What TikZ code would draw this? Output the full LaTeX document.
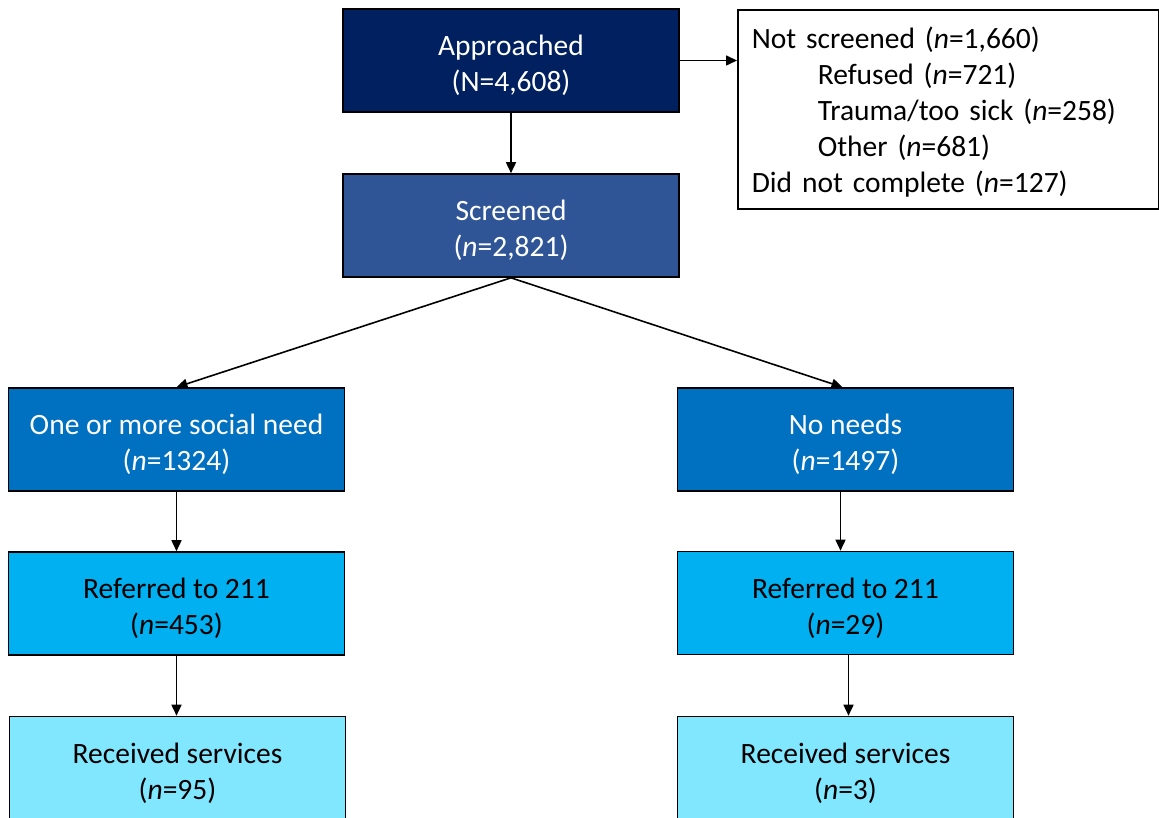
\documentclass[tikz,border=0pt]{standalone}
\usepackage{fontspec}
\setmainfont{Carlito}
\usetikzlibrary{arrows.meta}
\definecolor{cnavy}{HTML}{002060}
\definecolor{cscr}{HTML}{2F5597}
\definecolor{cblue}{HTML}{0070C0}
\definecolor{csky}{HTML}{00B0F0}
\definecolor{clight}{HTML}{80E7FF}
\newcommand{\tstr}{\rule{0pt}{31pt}}
\begin{document}
\begin{tikzpicture}[x=1pt,y=-1pt,
  box/.style={draw=black,line width=1.6pt,minimum width=336pt,minimum height=103pt,
    align=center,inner sep=0pt,font=\fontsize{29.5}{36}\selectfont},
  arr/.style={line width=1.6pt,-{Triangle[length=11pt,width=10pt]}}]
\useasboundingbox (0,0) rectangle (1159,818);
\fill[white] (0,0) rectangle (1159,818);
\node[box,fill=cnavy,text=white] (appr) at (511,60.5) {\tstr Approached\\(N=4,608)};
\node[box,fill=cscr,text=white] (scr) at (511,225.5) {\tstr Screened\\(\textit{n}=2,821)};
\node[box,fill=cblue,text=white] (one) at (176.5,439.5) {\tstr One or more social need\\(\textit{n}=1324)};
\node[box,fill=cblue,text=white] (no) at (845.5,439.5) {\tstr No needs\\(\textit{n}=1497)};
\node[box,fill=csky] (refl) at (176.5,603.5) {\tstr Referred to 211\\(\textit{n}=453)};
\node[box,fill=csky] (refr) at (845.5,603) {\tstr Referred to 211\\(\textit{n}=29)};
\node[box,fill=clight] (recl) at (177.5,768) {\tstr Received services\\(\textit{n}=95)};
\node[box,fill=clight] (recr) at (845.5,768) {\tstr Received services\\(\textit{n}=3)};
\node[draw=black,line width=1.6pt,anchor=north west,minimum width=421pt,minimum height=199pt,
  inner xsep=14pt,inner ysep=0pt,align=left,text width=393pt,font=\fontsize{29.5}{36}\selectfont]
  (nots) at (737,9) {\rule{0pt}{28pt}Not screened (\textit{n}=1,660)\\
  \hspace*{66pt}Refused (\textit{n}=721)\\
  \hspace*{66pt}Trauma/too sick (\textit{n}=258)\\
  \hspace*{66pt}Other (\textit{n}=681)\\
  Did not complete (\textit{n}=127)};
\draw[arr] (appr.south) -- (scr.north);
\draw[arr] (appr.east) -- (nots.west |- appr.east);
\draw[arr] (scr.south) -- (one.north);
\draw[arr] (scr.south) -- ([xshift=-3pt]no.north);
\draw[arr] (one.south) -- (refl.north);
\draw[arr] ([xshift=-5pt]no.south) -- ([xshift=-5pt]refr.north);
\draw[arr] (refl.south) -- ([xshift=-1pt]recl.north);
\draw[arr] ([xshift=3pt]refr.south) -- ([xshift=3pt]recr.north);
\end{tikzpicture}
\end{document}
